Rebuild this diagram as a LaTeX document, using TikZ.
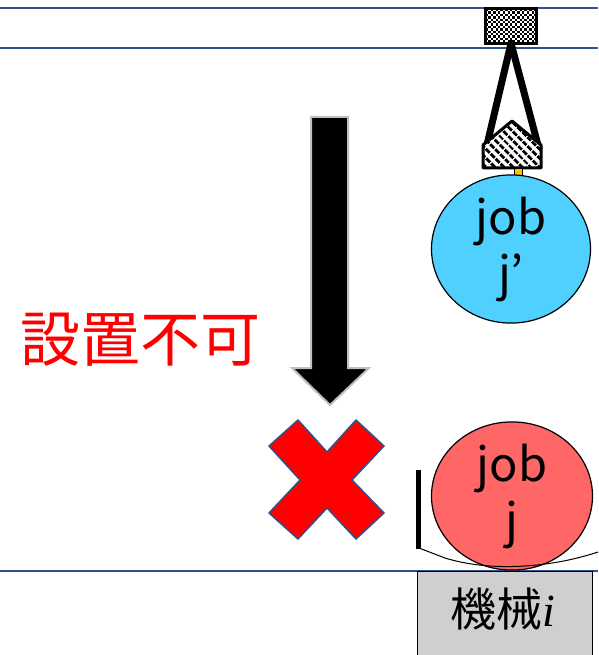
\documentclass[tikz,border=0pt]{standalone}
\usepackage{fontspec}
\setmainfont{Noto Sans CJK JP}
\newfontfamily\idxfont{Liberation Serif}
\usetikzlibrary{shapes.geometric,patterns.meta,positioning}
\definecolor{railblue}{RGB}{47,82,143}
\definecolor{jobblue}{RGB}{80,208,255}
\definecolor{jobred}{RGB}{255,102,102}
\definecolor{machgray}{RGB}{208,206,206}
\definecolor{pinorange}{RGB}{255,192,0}
\tikzset{
  rail/.style={
    draw = railblue,
    line width = 1.5pt
  },
  job/.style={
    shape = ellipse,
    draw,
    line width = 1.2pt,
    inner sep = 0pt,
    align = center,
    font = \fontsize{47}{56}\selectfont
  },
  hanger/.style={
    line width = 7pt,
    line cap = round
  },
}
\begin{document}
\begin{tikzpicture}[x=1pt,y=-1pt]
  \useasboundingbox (0,0) rectangle (598,655);
  % rails
  \draw[rail] (0,8) -- (598,8);
  \draw[rail] (0,48) -- (598,48);
  \draw[rail] (0,571) -- (598,571);

  % machine
  \node[draw, line width=1pt, fill=machgray, minimum width=175pt, minimum height=94pt,
        anchor=north west, inner sep=0pt] (mach) at (417,571) {};
  \node[font=\fontsize{46}{46}\selectfont] (machlabel) at (503,609) {機械{\idxfont\itshape i}};

  % trolley, fine checker inside
  \node[fill=white, minimum width=50pt, minimum height=34pt, inner sep=0pt] (trolley) at (511,26) {};
  \begin{scope}
    \clip (trolley.north west) rectangle (trolley.south east);
    \foreach \i in {0,...,20}{
      \foreach \j in {0,...,14}{
        \pgfmathparse{int(mod(\i+\j,2))}
        \ifnum\pgfmathresult=0
          \fill (486+\i*2.4,9+\j*2.4) rectangle ++(2.4,2.4);
        \fi
      }
    }
  \end{scope}
  \draw[line width=3pt] (trolley.north west) rectangle (trolley.south east);

  % gripper
  \coordinate (gl) at (486,149);
  \coordinate (gr) at (539,149);
  \draw[hanger] (trolley.south) -- (gl);
  \draw[hanger] (trolley.south) -- (gr);
  \fill[white] (483,168) -- (483,145) -- (512,121) -- (541,145) -- (541,168) -- cycle;
  \fill[pattern={Lines[angle=-45, distance=6.5pt, line width=3.2pt]}] (483,168) -- (483,145) -- (512,121) -- (541,145) -- (541,168) -- cycle;
  \draw[line width=3pt, line join=round] (483,168) -- (483,145) -- (512,121) -- (541,145) -- (541,168) -- cycle;
  \draw[fill=pinorange, line width=0.6pt] (514,168) rectangle (522,177);

  % jobs
  \node[job, fill=jobblue, minimum width=159pt, minimum height=148pt] (jprime) at (511,249) {job\\j’};
  \node[job, fill=jobred, minimum width=161pt, minimum height=142pt] (jcur) at (512,496) {job\\j};

  % holder under job j
  \draw[line width=5pt] (418,470) -- (418,549);
  \draw[line width=1pt] (419,548) -- (445,558) .. controls (490,572) and (550,568) .. (598,552);

  % falling arrow
  \filldraw[fill=black, draw=black!25, line width=2pt, line join=miter]
    (311,117) -- (348,117) -- (348,368) -- (369,368) -- (330,405) -- (292,368) -- (311,368) -- cycle;

  % refused mark
  \filldraw[fill=red, draw=railblue, line width=1.5pt, line join=round]
    (298,420) -- (327,452) -- (356,420) -- (384,446) -- (352,480) -- (384,513) -- (356,539)
    -- (327,508) -- (298,539) -- (269,513) -- (300,480) -- (269,446) -- cycle;
  \node[text=red, font=\fontsize{60}{60}\selectfont] (nogo) at (140,340) {設置不可};
\end{tikzpicture}
\end{document}
